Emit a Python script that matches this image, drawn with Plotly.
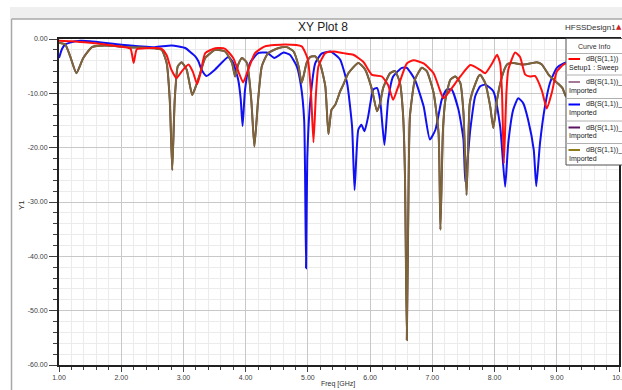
import plotly.graph_objects as go

# ---------------- data ----------------
red_f = [1.00, 1.20, 1.50, 1.80, 2.05, 2.15, 2.20, 2.25, 2.40, 2.65, 2.73, 2.80, 2.89, 2.97, 3.08,
         3.15, 3.22, 3.27, 3.35, 3.51, 3.67, 3.80, 3.90, 3.96, 4.03, 4.15, 4.31, 4.63, 4.90, 5.00,
         5.05, 5.09, 5.13, 5.17, 5.28, 5.41, 5.57, 5.73, 5.89, 6.03, 6.19, 6.29, 6.37, 6.45, 6.59,
         6.70, 6.86, 7.02, 7.13, 7.18, 7.29, 7.45, 7.61, 7.77, 7.85, 7.96, 8.04, 8.09, 8.12, 8.15,
         8.19, 8.22, 8.33, 8.41, 8.49, 8.57, 8.65, 8.76, 8.84, 8.92, 9.00, 9.11, 9.22, 9.35]
red_db = [-0.3, -0.4, -0.7, -1.1, -1.5, -1.8, -4.4, -1.9, -1.7, -1.8, -3.0, -5.5, -7.2, -6.0, -4.7,
          -6.0, -8.3, -6.5, -2.6, -1.7, -1.8, -3.5, -6.5, -8.0, -6.0, -2.6, -1.35, -1.0, -1.35, -3.8,
          -10.0, -19.0, -10.0, -5.0, -2.6, -2.3, -2.6, -2.9, -4.2, -6.6, -6.9, -8.5, -11.2, -8.8, -4.5,
          -3.9, -4.5, -6.3, -9.7, -10.9, -9.4, -6.9, -4.8, -5.7, -6.3, -4.5, -2.9, -4.5, -10.0, -22.9,
          -10.0, -5.7, -2.5, -3.3, -6.5, -6.9, -6.8, -9.5, -12.8, -9.9, -6.0, -4.7, -4.2, -4.0]

blue_f = [1.00, 1.05, 1.10, 1.26, 1.50, 2.00, 2.54, 2.81, 3.03, 3.13, 3.19, 3.24, 3.29, 3.37, 3.51,
          3.72, 3.80, 3.88, 3.92, 3.95, 3.99, 4.07, 4.20, 4.34, 4.46, 4.61, 4.71, 4.82, 4.89, 4.94,
          4.955, 4.97, 4.99, 5.04, 5.12, 5.22, 5.36, 5.44, 5.52, 5.63, 5.71, 5.75, 5.81, 5.86, 5.91,
          5.97, 6.05, 6.11, 6.16, 6.23, 6.29, 6.37, 6.51, 6.59, 6.72, 6.86, 6.96, 7.05, 7.15, 7.23,
          7.31, 7.42, 7.50, 7.53, 7.61, 7.69, 7.77, 7.85, 7.98, 8.09, 8.17, 8.22, 8.30, 8.38, 8.46,
          8.54, 8.63, 8.67, 8.73, 8.81, 8.89, 9.00, 9.11, 9.25]
blue_db = [-3.5, -1.8, -1.0, -0.4, -0.4, -1.05, -1.5, -1.2, -1.66, -2.6, -3.2, -4.1, -5.6, -6.8, -5.6,
           -3.3, -4.4, -7.5, -11.0, -16.0, -9.3, -4.4, -2.6, -2.5, -3.5, -2.5, -2.9, -5.0, -8.7, -14.9,
           -25.0, -42.2, -22.0, -11.2, -4.4, -2.7, -2.3, -2.9, -3.8, -8.1, -16.1, -27.8, -16.7, -15.8, -17.0,
           -14.2, -9.3, -9.0, -11.2, -19.5, -11.2, -6.9, -5.3, -5.3, -7.5, -12.4, -18.5, -16.7, -11.2, -9.3,
           -9.3, -13.0, -18.5, -26.3, -16.7, -10.5, -8.7, -8.4, -9.6, -16.1, -27.2, -19.2, -13.0, -10.9, -11.8,
           -14.9, -20.4, -27.1, -19.2, -12.4, -8.1, -5.3, -4.5, -4.0]

brown_f = [1.00, 1.10, 1.18, 1.28, 1.39, 1.53, 1.74, 2.11, 2.54, 2.65, 2.73, 2.78, 2.82, 2.86, 2.91,
           2.97, 3.05, 3.14, 3.19, 3.27, 3.35, 3.51, 3.67, 3.78, 3.83, 3.88, 3.94, 4.02, 4.09, 4.14,
           4.20, 4.26, 4.36, 4.53, 4.66, 4.77, 4.85, 4.90, 4.98, 5.04, 5.12, 5.20, 5.28, 5.33, 5.38,
           5.44, 5.52, 5.57, 5.65, 5.81, 5.92, 6.03, 6.11, 6.16, 6.21, 6.32, 6.40, 6.48, 6.53, 6.56,
           6.59, 6.62, 6.64, 6.72, 6.83, 6.91, 7.02, 7.10, 7.13, 7.17, 7.21, 7.29, 7.37, 7.45, 7.50,
           7.55, 7.60, 7.64, 7.74, 7.77, 7.85, 7.93, 7.98, 8.04, 8.12, 8.20, 8.30, 8.44, 8.57, 8.68,
           8.76, 8.87, 8.95, 9.03, 9.09, 9.15, 9.25]
brown_db = [-0.7, -1.0, -3.2, -6.3, -3.5, -1.5, -1.2, -1.5, -1.7, -2.0, -4.4, -11.2, -24.1, -11.2, -5.0,
            -4.3, -5.6, -10.3, -9.0, -6.3, -3.5, -2.0, -2.3, -4.4, -6.9, -4.7, -3.5, -4.4, -11.2, -19.8,
            -11.2, -5.0, -2.6, -1.66, -1.5, -2.3, -5.0, -8.1, -4.4, -3.3, -3.2, -4.7, -8.7, -17.5, -13.0,
            -12.1, -9.6, -8.4, -6.3, -4.4, -5.6, -9.3, -13.3, -11.8, -9.0, -6.3, -5.9, -8.1, -14.0, -25.0,
            -55.4, -25.0, -14.2, -7.5, -5.3, -5.9, -9.9, -17.3, -35.1, -17.0, -11.2, -7.5, -6.9, -8.1, -13.5,
            -28.7, -12.0, -9.9, -6.9, -6.6, -8.1, -12.4, -16.4, -11.2, -6.9, -4.7, -4.4, -4.7, -4.5, -4.3,
            -4.7, -6.6, -7.5, -8.3, -9.0, -10.6, -11.0]

x_ticks = [1, 2, 3, 4, 5, 6, 7, 8, 9, 10]
x_labels = ["1.00", "2.00", "3.00", "4.00", "5.00", "6.00", "7.00", "8.00", "9.00", "10.0"]
y_ticks = [0, -10, -20, -30, -40, -50, -60]
y_labels = ["0.00", "-10.00", "-20.00", "-30.00", "-40.00", "-50.00", "-60.00"]

legend_names = ["dB(S(1,1))", "dB(S(1,1))_1", "dB(S(1,1))_2", "dB(S(1,1))_3", "dB(S(1,1))_4"]
legend_subs = ["Setup1 : Sweep", "Imported", "Imported", "Imported", "Imported"]
legend_colors = ["#ff0000", "#a27a98", "#0000ff", "#5c1462", "#8c7c1c"]

# ---------------- figure ----------------
W, H = 622, 390
L, R, T, B = 59, 3, 39, 25
PW, PH = W - L - R, H - T - B


def px(x):
    return (x - L) / PW


def py(y):
    return (H - B - y) / PH


FONT = "Liberation Sans Narrow, Liberation Sans, Arial, sans-serif"
fig = go.Figure()

line_kw = dict(width=2, shape="spline", smoothing=0.5)
fig.add_trace(go.Scatter(x=blue_f, y=blue_db, mode="lines", showlegend=False,
                         line=dict(color="#1010f0", **line_kw), hoverinfo="skip"))
fig.add_trace(go.Scatter(x=brown_f, y=brown_db, mode="lines", showlegend=False,
                         line=dict(color="#5c3a48", **line_kw), hoverinfo="skip"))
fig.add_trace(go.Scatter(x=brown_f, y=brown_db, mode="lines", showlegend=False,
                         line=dict(color="#7e6638", width=1.8, shape="spline", smoothing=0.5),
                         hoverinfo="skip"))
fig.add_trace(go.Scatter(x=red_f, y=red_db, mode="lines", showlegend=False,
                         line=dict(color="#ff1010", **line_kw), hoverinfo="skip"))

shapes = []
ann = []

# window chrome
shapes.append(dict(type="rect", xref="paper", yref="paper", x0=px(10), x1=px(640), y0=py(19), y1=py(7),
                   fillcolor="#efefef", line=dict(width=0), layer="below"))
shapes.append(dict(type="line", xref="paper", yref="paper", x0=px(11.5), x1=px(11.5), y0=py(19), y1=py(400),
                   line=dict(color="#a8a8a8", width=1.5)))
shapes.append(dict(type="line", xref="paper", yref="paper", x0=px(11.5), x1=px(640), y0=py(19), y1=py(19),
                   line=dict(color="#a8a8a8", width=1.5)))

# legend box ("Curve Info")
lx0, lx1, ly0, ly1 = 566, 640, 38.5, 165
shapes.append(dict(type="rect", xref="paper", yref="paper", x0=px(lx0), x1=px(lx1), y0=py(ly1), y1=py(ly0),
                   fillcolor="white", line=dict(color="#505050", width=1)))
seps = [53.5, 75, 98.5, 121, 143.5]
for s in seps:
    shapes.append(dict(type="line", xref="paper", yref="paper", x0=px(lx0), x1=px(lx1), y0=py(s), y1=py(s),
                       line=dict(color="#b0b0b0", width=1)))
ann.append(dict(text="Curve Info", xref="paper", yref="paper", x=px(594), y=py(46.5), showarrow=False,
                font=dict(family=FONT, size=7, color="#303030"), xanchor="center", yanchor="middle"))
entry_y = [59, 82, 104.5, 127.5, 150]
for name, sub, col, ey in zip(legend_names, legend_subs, legend_colors, entry_y):
    shapes.append(dict(type="line", xref="paper", yref="paper", x0=px(568.5), x1=px(580), y0=py(ey), y1=py(ey),
                       line=dict(color=col, width=2)))
    ann.append(dict(text=name, xref="paper", yref="paper", x=px(584), y=py(ey), showarrow=False,
                    font=dict(family=FONT, size=7, color="#202020"), xanchor="left", yanchor="middle"))
    ann.append(dict(text=sub, xref="paper", yref="paper", x=px(567), y=py(ey + 8.5), showarrow=False,
                    font=dict(family=FONT, size=7, color="#202020"), xanchor="left", yanchor="middle"))

# titles
ann.append(dict(text="XY Plot 8", xref="paper", yref="paper", x=px(323), y=py(26.5), showarrow=False,
                font=dict(family=FONT, size=12, color="#202020"), xanchor="center", yanchor="middle"))
ann.append(dict(text="HFSSDesign1", xref="paper", yref="paper", x=px(563), y=py(27.5), showarrow=False,
                font=dict(family=FONT, size=8, color="#303030"), xanchor="left", yanchor="middle"))
ann.append(dict(text="▲", xref="paper", yref="paper", x=px(614), y=py(27), showarrow=False,
                font=dict(family="DejaVu Sans", size=7, color="#d02020"), xanchor="left", yanchor="middle"))
ann.append(dict(text="Freq [GHz]", xref="paper", yref="paper", x=px(338), y=py(384), showarrow=False,
                font=dict(family=FONT, size=7, color="#303030"), xanchor="center", yanchor="middle"))
ann.append(dict(text="Y1", xref="paper", yref="paper", x=px(22), y=py(205), showarrow=False, textangle=-90,
                font=dict(family=FONT, size=8, color="#303030"), xanchor="center", yanchor="middle"))

fig.update_layout(
    width=W, height=H,
    margin=dict(l=L, r=R, t=T, b=B, pad=0, autoexpand=False),
    paper_bgcolor="white", plot_bgcolor="white",
    shapes=shapes, annotations=ann,
    showlegend=False,
    font=dict(family=FONT, size=7, color="#404040"),
)
fig.update_xaxes(
    range=[1, 10], tickmode="array", tickvals=x_ticks, ticktext=x_labels,
    showline=True, linecolor="#202020", linewidth=2, mirror=True,
    ticks="outside", ticklen=5, tickcolor="#404040", tickwidth=1,
    showgrid=True, gridcolor="#c8c8c8", gridwidth=1.3, zeroline=False,
    tickfont=dict(family=FONT, size=7, color="#404040"),
    ticklabeloverflow="allow", automargin=False,
    minor=dict(dtick=0.2, tick0=0, showgrid=True, gridcolor="#ebebeb", gridwidth=1,
               ticks="outside", ticklen=3, tickcolor="#404040"),
)
fig.update_yaxes(
    range=[-60, 0], tickmode="array", tickvals=y_ticks, ticktext=y_labels,
    showline=True, linecolor="#202020", linewidth=2, mirror=True,
    ticks="outside", ticklen=8, tickcolor="#404040", tickwidth=1,
    showgrid=True, gridcolor="#c8c8c8", gridwidth=1.3, zeroline=False,
    tickfont=dict(family=FONT, size=7, color="#404040"), automargin=False,
    minor=dict(dtick=2, tick0=0, showgrid=True, gridcolor="#ebebeb", gridwidth=1,
               ticks="outside", ticklen=4, tickcolor="#404040"),
)

fig.write_html("out.html")
